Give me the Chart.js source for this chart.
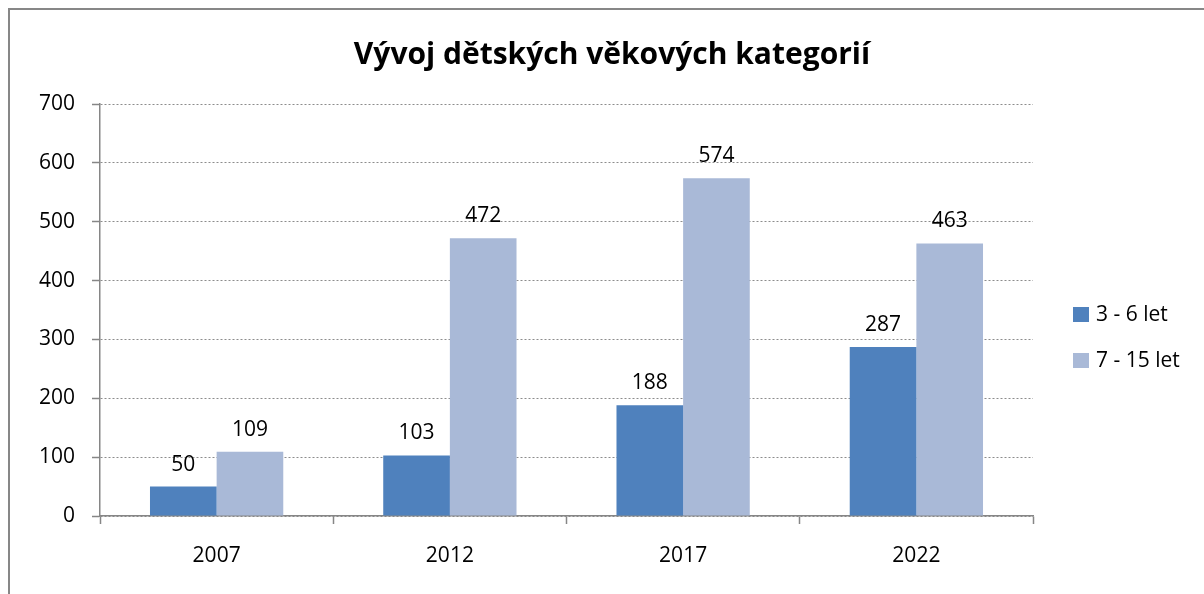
<!DOCTYPE html>
<html>
<head>
<meta charset="utf-8">
<script src="https://cdn.jsdelivr.net/npm/chart.js@4.4.1/dist/chart.umd.min.js"></script>
<style>
  html, body { margin: 0; padding: 0; background: #fff; overflow: hidden; }
  #frame { position: absolute; left: 8px; top: 8px; width: 1400px; height: 800px;
           border-top: 2px solid #878787; border-left: 2px solid #878787; }
  #wrap { position: absolute; left: 0; top: 0; width: 1204px; height: 594px; }
</style>
</head>
<body>
<div id="frame"></div>
<div id="wrap"><canvas id="chart" width="1204" height="594"></canvas></div>
<script>
const years = ["2007", "2012", "2017", "2022"];
const kids3to6 = [50, 103, 188, 287];
const kids7to15 = [109, 472, 574, 463];
const seriesNames = ["3 - 6 let", "7 - 15 let"];
const seriesColors = ["#4F81BD", "#A9B9D7"];
const chartTitle = "Vývoj dětských věkových kategorií";

const FONT = "'Open Sans', 'Noto Sans', sans-serif";

// value labels above each bar
const barLabels = {
  id: "barLabels",
  afterDatasetsDraw(chart) {
    const ctx = chart.ctx;
    ctx.save();
    ctx.font = "21px " + FONT;
    ctx.fillStyle = "#000";
    ctx.textAlign = "center";
    ctx.textBaseline = "alphabetic";
    chart.data.datasets.forEach((ds, i) => {
      chart.getDatasetMeta(i).data.forEach((bar, j) => {
        ctx.fillText(String(ds.data[j]), bar.x, bar.y - 16);
      });
    });
    ctx.restore();
  }
};

// title like the office chart: bold, centred over the whole frame
const titleDraw = {
  id: "titleDraw",
  afterDraw(chart) {
    const ctx = chart.ctx;
    ctx.save();
    ctx.font = "bold 30px " + FONT;
    ctx.fillStyle = "#000";
    ctx.textAlign = "center";
    ctx.textBaseline = "middle";
    ctx.fillText(chartTitle, 612, 55);
    ctx.restore();
  }
};

// legend on the right with square markers
const sideLegend = {
  id: "sideLegend",
  afterDraw(chart) {
    const ctx = chart.ctx;
    ctx.save();
    ctx.font = "21px " + FONT;
    ctx.textBaseline = "middle";
    ctx.textAlign = "left";
    chart.data.datasets.forEach((ds, i) => {
      const y = 315 + i * 46;
      ctx.fillStyle = ds.backgroundColor;
      ctx.fillRect(1073, y - 8, 16, 15);
      ctx.fillStyle = "#000";
      ctx.fillText(ds.label, 1096, y);
    });
    ctx.restore();
  }
};

new Chart(document.getElementById("chart").getContext("2d"), {
  type: "bar",
  data: {
    labels: years,
    datasets: [
      { label: seriesNames[0], data: kids3to6, backgroundColor: seriesColors[0] },
      { label: seriesNames[1], data: kids7to15, backgroundColor: seriesColors[1] }
    ]
  },
  options: {
    responsive: false,
    animation: false,
    layout: { padding: { top: 104, right: 171, left: 0, bottom: 0 } },
    datasets: {
      bar: { categoryPercentage: 2 / 3.5, barPercentage: 1, borderWidth: 0 }
    },
    plugins: {
      legend: { display: false },
      title: { display: false },
      tooltip: { enabled: false }
    },
    scales: {
      x: {
        afterFit: (scale) => { scale.height = 78; },
        grid: {
          offset: true,
          drawOnChartArea: false,
          drawTicks: true,
          tickLength: 8,
          tickColor: "#868686",
          tickWidth: 1.5
        },
        border: { display: true, color: "#868686", width: 1.5 },
        ticks: { color: "#000", font: { family: FONT, size: 21 }, padding: 19 }
      },
      y: {
        min: 0,
        max: 700,
        afterFit: (scale) => { scale.width = 100; },
        grid: {
          color: "#8c8c8c",
          lineWidth: 1,
          drawTicks: true,
          tickLength: 8,
          tickColor: "#868686",
          tickWidth: 1.5,
          tickBorderDash: []
        },
        border: { display: true, color: "#868686", width: 1.5, dash: [2, 2] },
        ticks: { stepSize: 100, color: "#000", font: { family: FONT, size: 21 }, padding: 17 }
      }
    }
  },
  plugins: [barLabels, titleDraw, sideLegend]
});
</script>
</body>
</html>
